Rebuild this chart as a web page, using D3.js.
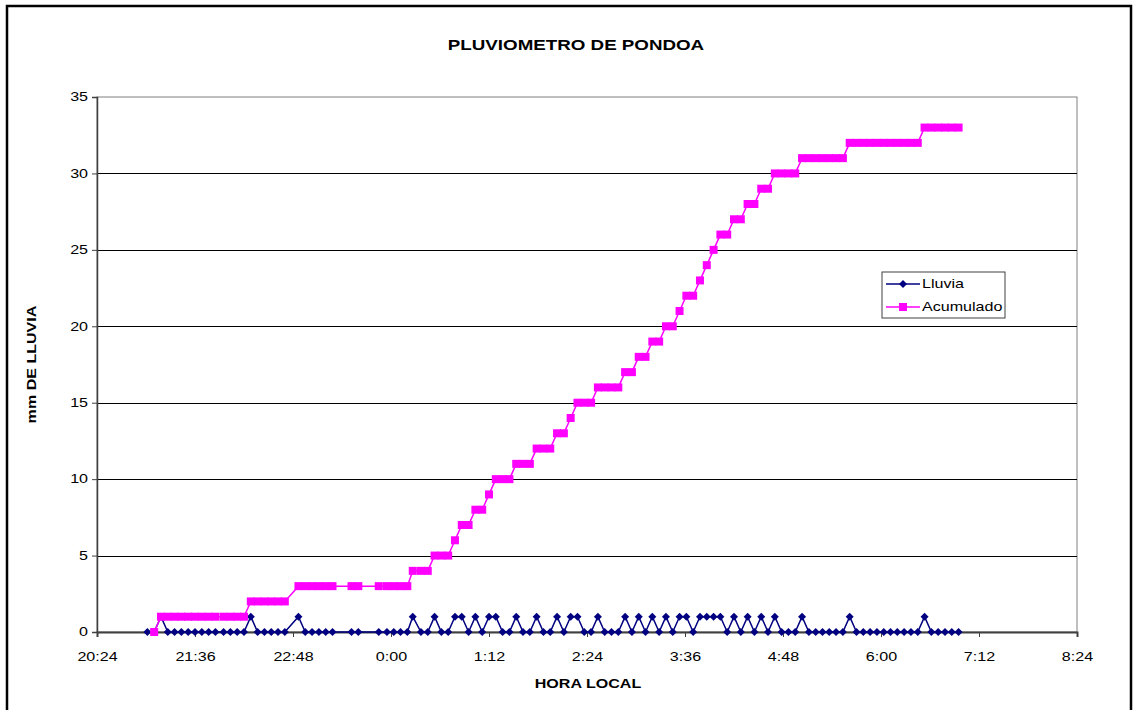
<!DOCTYPE html>
<html>
<head>
<meta charset="utf-8">
<script src="https://d3js.org/d3.v7.min.js"></script>
<style>
  body { margin: 0; background: #fff; }
  svg { font-family: Arial, "Liberation Sans", sans-serif; }
</style>
</head>
<body>
<svg class="target" width="1134" height="710"></svg>
<script>

// readings every ~5 min (times after midnight belong to the next day)
const times = [
  "21:01","21:06","21:11","21:16","21:21","21:26","21:31","21:36","21:41","21:46",
  "21:51","21:57","22:02","22:07","22:12","22:17","22:22","22:27","22:32","22:37",
  "22:42","22:52","22:57","23:02","23:07","23:12","23:17","23:31","23:36","23:51",
  "23:57","0:02","0:07","0:12","0:16","0:22","0:27","0:32","0:37","0:42",
  "0:47","0:52","0:57","1:02","1:07","1:12","1:17","1:22","1:27","1:32",
  "1:37","1:42","1:47","1:52","1:57","2:02","2:07","2:12","2:17","2:22",
  "2:27","2:32","2:37","2:42","2:47","2:52","2:57","3:02","3:07","3:12",
  "3:17","3:22","3:27","3:32","3:37","3:42","3:47","3:52","3:57","4:02",
  "4:07","4:12","4:17","4:22","4:27","4:32","4:37","4:42","4:47","4:52",
  "4:57","5:02","5:07","5:12","5:17","5:22","5:27","5:32","5:37","5:42",
  "5:47","5:52","5:57","6:02","6:07","6:12","6:17","6:22","6:27","6:32",
  "6:37","6:42","6:47","6:52","6:57"
]

const lluvia = [
  0,0,1,0,0,0,0,0,0,0,
  0,0,0,0,0,1,0,0,0,0,
  0,1,0,0,0,0,0,0,0,0,
  0,0,0,0,1,0,0,1,0,0,
  1,1,0,1,0,1,1,0,0,1,
  0,0,1,0,0,1,0,1,1,0,
  0,1,0,0,0,1,0,1,0,1,
  0,1,0,1,1,0,1,1,1,1,
  0,1,0,1,0,1,0,1,0,0,
  0,1,0,0,0,0,0,0,1,0,
  0,0,0,0,0,0,0,0,0,1,
  0,0,0,0,0
]

const acumulado = [
  null,0,1,1,1,1,1,1,1,1,
  1,1,1,1,1,2,2,2,2,2,
  2,3,3,3,3,3,3,3,3,3,
  3,3,3,3,4,4,4,5,5,5,
  6,7,7,8,8,9,10,10,10,11,
  11,11,12,12,12,13,13,14,15,15,
  15,16,16,16,16,17,17,18,18,19,
  19,20,20,21,22,22,23,24,25,26,
  26,27,27,28,28,29,29,30,30,30,
  30,31,31,31,31,31,31,31,32,32,
  32,32,32,32,32,32,32,32,32,33,
  33,33,33,33,33
]

const xTickLabels = ["20:24","21:36","22:48","0:00","1:12","2:24","3:36","4:48","6:00","7:12","8:24"]
const yTicks = [0, 5, 10, 15, 20, 25, 30, 35]
const seriesNames = ["Lluvia", "Acumulado"]

const width = 1134
const height = 710
const margin = { top: 97, right: 56, bottom: 78, left: 97 }
const stretch = 1.34   // the original text is drawn wide

// 20:xx-23:xx on day 1, 0:xx-8:xx on day 2
function parseHour(s) {
  const [h, m] = s.split(':').map(Number)
  return new Date(2000, 0, h < 12 ? 2 : 1, h, m)
}

// wide text placed at (x,y), optionally rotated
function wideText(parent, x, y, str, size, bold, rot = 0) {
  return parent.append('text')
      .attr('transform', `translate(${x},${y}) rotate(${rot}) scale(${stretch},1)`)
      .attr('text-anchor', 'middle')
      .style('font-size', size + 'px')
      .style('font-weight', bold ? 'bold' : 'normal')
      .text(str)
}

const xScale = d3.scaleTime()
  .domain([parseHour(xTickLabels[0]), parseHour(xTickLabels[xTickLabels.length - 1])])
  .range([margin.left, width - margin.right - 1])

const yScale = d3.scaleLinear()
  .domain([0, 35])
  .range([height - margin.bottom, margin.top])

const svg = d3.select('.target')

svg.append('rect')
    .attr('width', width).attr('height', height).attr('fill', '#fff')

// outer chart frame
svg.append('rect')
    .attr('x', 7).attr('y', 6)
    .attr('width', 1124).attr('height', 720)
    .attr('fill', 'none').attr('stroke', '#000').attr('stroke-width', 2.5)

wideText(svg, 576, 50, 'PLUVIOMETRO DE PONDOA', 14, true)

// plot area border
svg.append('rect')
    .attr('x', xScale.range()[0]).attr('y', margin.top)
    .attr('width', xScale.range()[1] - xScale.range()[0])
    .attr('height', yScale(0) - margin.top)
    .attr('fill', 'none').attr('stroke', '#808080').attr('stroke-width', 1)

// gridlines
svg.append('g')
    .selectAll('line')
    .data(yTicks.slice(1, -1))
    .join('line')
      .attr('x1', xScale.range()[0]).attr('x2', xScale.range()[1])
      .attr('y1', d => Math.round(yScale(d)) + 0.5).attr('y2', d => Math.round(yScale(d)) + 0.5)
      .attr('stroke', '#000').attr('stroke-width', 1)

const yAxis = d3.axisLeft(yScale).tickValues(yTicks).tickSize(5).tickPadding(4)
svg.append('g')
    .attr('transform', `translate(${xScale.range()[0]},0)`)
    .call(yAxis)
    .call(g => g.select('.domain').attr('stroke', '#404040').attr('stroke-width', 1.5))
    .call(g => g.selectAll('.tick line').attr('stroke', '#404040'))
    .call(g => g.selectAll('.tick text')
      .attr('x', -9 / stretch)
      .attr('transform', `scale(${stretch},1)`)
      .style('font-size', '12px').attr('fill', '#000').attr('font-family', null))

const xAxis = d3.axisBottom(xScale)
  .tickValues(xTickLabels.map(parseHour))
  .tickFormat((d, i) => xTickLabels[i])
  .tickSize(5).tickPadding(15)
svg.append('g')
    .attr('transform', `translate(0,${yScale(0)})`)
    .call(xAxis)
    .call(g => g.select('.domain').attr('stroke', '#404040').attr('stroke-width', 2))
    .call(g => g.selectAll('.tick line').attr('stroke', '#404040'))
    .call(g => g.selectAll('.tick text')
      .attr('transform', `scale(${stretch},1)`)
      .style('font-size', '12px').attr('fill', '#000').attr('font-family', null))

wideText(svg, 588, 688, 'HORA LOCAL', 12, true)
wideText(svg, 36, (margin.top + yScale(0)) / 2, 'mm DE LLUVIA', 12, true, -90)

const rows = times.map((t, i) => ({ t: parseHour(t), lluvia: lluvia[i], acum: acumulado[i] }))

const navy = '#000080'
const magenta = '#FF00FF'
const diamond = (g, r) => g.append('path').attr('d', `M0,${-r}L${r},0L0,${r}L${-r},0Z`)

// Lluvia series
svg.append('path')
    .datum(rows)
    .attr('fill', 'none').attr('stroke', navy).attr('stroke-width', 1.5)
    .attr('d', d3.line().x(d => xScale(d.t)).y(d => yScale(d.lluvia)))

svg.append('g')
    .selectAll('g')
    .data(rows)
    .join('g')
      .attr('transform', d => `translate(${xScale(d.t)},${yScale(d.lluvia)})`)
    .call(g => diamond(g, 4).attr('fill', navy))

// Acumulado series
const acumRows = rows.filter(d => d.acum !== null)
svg.append('path')
    .datum(acumRows)
    .attr('fill', 'none').attr('stroke', magenta).attr('stroke-width', 1.5)
    .attr('d', d3.line().x(d => xScale(d.t)).y(d => yScale(d.acum)))

svg.append('g')
    .selectAll('rect')
    .data(acumRows)
    .join('rect')
      .attr('x', d => xScale(d.t) - 4).attr('y', d => yScale(d.acum) - 4)
      .attr('width', 8).attr('height', 8)
      .attr('fill', magenta)

// legend
const legend = svg.append('g').attr('transform', 'translate(882,272)')
legend.append('rect')
    .attr('width', 123).attr('height', 46)
    .attr('fill', '#fff').attr('stroke', '#404040').attr('stroke-width', 1)

const items = legend.selectAll('g')
  .data(seriesNames)
  .join('g')
    .attr('transform', (d, i) => `translate(0,${12 + i * 23})`)

items.append('line')
    .attr('x1', 4).attr('x2', 38)
    .attr('stroke', (d, i) => i ? magenta : navy).attr('stroke-width', 1.5)

items.each(function (d, i) {
  const g = d3.select(this).append('g').attr('transform', 'translate(21,0)')
  if (i) g.append('rect').attr('x', -4).attr('y', -4).attr('width', 8).attr('height', 8).attr('fill', magenta)
  else diamond(g, 4).attr('fill', navy)
})

items.append('text')
    .attr('transform', `translate(40,0) scale(${stretch},1)`)
    .attr('dy', '0.35em')
    .style('font-size', '12px')
    .text(d => d)

</script>
</body>
</html>
